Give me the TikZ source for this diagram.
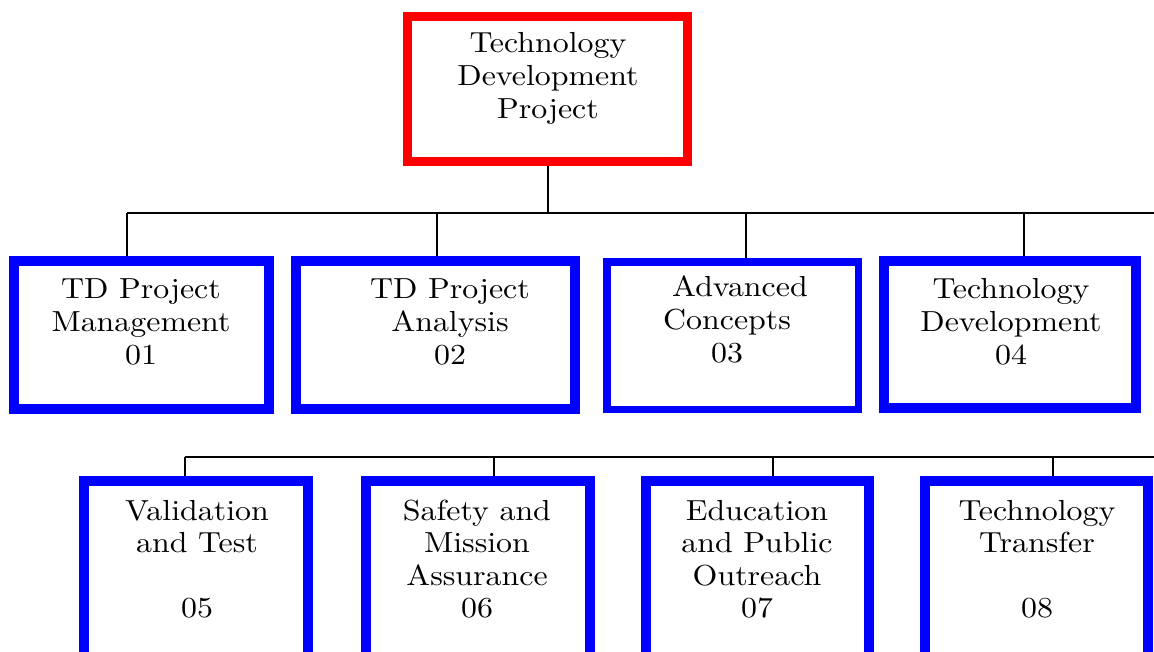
\documentclass[tikz,border=0pt]{standalone}
\usepackage{fontspec}
\setmainfont{lmroman10-regular.otf}[FakeStretch=1.1]
\usetikzlibrary{calc}
\definecolor{boxblue}{RGB}{0,0,255}
\definecolor{boxred}{RGB}{255,0,0}
\begin{document}
\begin{tikzpicture}[x=1pt,y=-1pt,
  topbox/.style={draw=boxred,line width=9pt,minimum width=280pt,minimum height=145pt,inner sep=0pt},
  wbox/.style={draw=boxblue,line width=10pt,inner sep=0pt},
  lbl/.style={align=center,anchor=base,inner sep=0pt,font=\fontsize{29}{33}\selectfont},
  lbltwo/.style={align=center,anchor=base,inner sep=0pt,font=\fontsize{29}{32.5}\selectfont},
  conn/.style={draw=black,line width=2pt}]
\useasboundingbox (0,0) rectangle (1154,651);
\clip (0,0) rectangle (1154,651);
\fill[white] (0,0) rectangle (1154,651);

% top
\node[topbox] (top) at (547.5,89) {};
\node[lbl] (ttop) at (548,118) {Technology\\Development\\Project};

% row 1
\node[wbox,minimum width=255pt,minimum height=148pt] (b1) at (141,334.5) {};
\node[wbox,minimum width=279pt,minimum height=148pt] (b2) at (435,334.5) {};
\node[wbox,line width=7.5pt,minimum width=251.5pt,minimum height=147.5pt] (b3) at (732.5,335.5) {};
\node[wbox,minimum width=252pt,minimum height=147pt] (b4) at (1010,334.5) {};
\node[lbl] (t1) at (141,364) {TD Project\\Management\\01};
\node[lbl] (t2) at (450,364) {TD Project\\Analysis\\02};
\node[lbl] (t3) at (727,362) {\hspace*{26pt}Advanced\\Concepts\\03};
\node[lbl] (t4) at (1011,364) {Technology\\Development\\04};

% row 2
\node[wbox,minimum width=224pt,minimum height=184pt] (b5) at (196,573) {};
\node[wbox,minimum width=224pt,minimum height=184pt] (b6) at (478,573) {};
\node[wbox,minimum width=223pt,minimum height=184pt] (b7) at (757.5,573) {};
\node[wbox,minimum width=223pt,minimum height=184pt] (b8) at (1036.5,573) {};
\node[lbltwo] (t5) at (197,617.5) {Validation\\and Test\\~\\05};
\node[lbltwo] (t6) at (477,617.5) {Safety and\\Mission\\Assurance\\06};
\node[lbltwo] (t7) at (757,617.5) {Education\\and Public\\Outreach\\07};
\node[lbltwo] (t8) at (1037,617.5) {Technology\\Transfer\\~\\08};

% connectors, level 1
\coordinate (bus1) at (0,213);
\coordinate (bus1end) at (1165,213);
\coordinate (p1) at ($(b1.north)+(-14,0)$);
\coordinate (p2) at ($(b2.north)+(2,0)$);
\coordinate (p3) at ($(b3.north)+(13.5,0)$);
\coordinate (p4) at ($(b4.north)+(14,0)$);
\draw[conn] (top.south) -- (top.south |- bus1);
\draw[conn] (p1 |- bus1) -- (bus1end);
\foreach \p in {p1,p2,p3,p4} { \draw[conn] (\p |- bus1) -- (\p); }

% connectors, level 2
\coordinate (bus2) at (0,457);
\coordinate (bus2end) at (1165,457);
\coordinate (q5) at ($(b5.north)+(-11,0)$);
\coordinate (q6) at ($(b6.north)+(16,0)$);
\coordinate (q7) at ($(b7.north)+(15.5,0)$);
\coordinate (q8) at ($(b8.north)+(16.5,0)$);
\draw[conn] (q5 |- bus2) -- (bus2end);
\foreach \q in {q5,q6,q7,q8} { \draw[conn] (\q |- bus2) -- (\q); }
\end{tikzpicture}
\end{document}
